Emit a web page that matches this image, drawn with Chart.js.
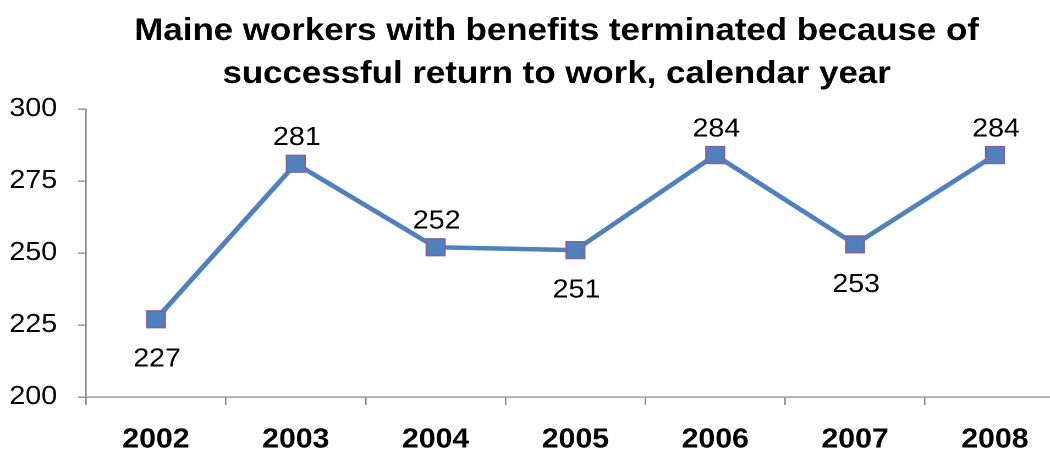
<!DOCTYPE html>
<html>
<head>
<meta charset="utf-8">
<script src="https://cdn.jsdelivr.net/npm/chart.js@4"></script>
<style>
  html, body { margin: 0; padding: 0; background: #fff; overflow: hidden; width: 1050px; height: 454px; }
  #wrap { width: 1012px; height: 454px; transform: scaleX(1.1); transform-origin: 0 0; }
</style>
</head>
<body>
<div id="wrap"><canvas id="c" width="1012" height="454"></canvas></div>
<script>
// ---- data ----
const titleLines = ["Maine workers with benefits terminated because of", "successful return to work, calendar year"];
const years = ["2002", "2003", "2004", "2005", "2006", "2007", "2008"];
const terminated = [227, 281, 252, 251, 284, 253, 284];
const yTicks = [200, 225, 250, 275, 300];

const FONT = "'Liberation Sans', Arial, sans-serif";
const AXIS_GREY = '#868686';

// title drawn centred on the canvas, space reserved via layout padding
const titlePlugin = {
  id: 'twoLineTitle',
  afterDraw(chart) {
    const ctx = chart.ctx;
    ctx.save();
    ctx.font = 'bold 31.7px ' + FONT;
    ctx.fillStyle = '#000';
    ctx.textAlign = 'center';
    ctx.textBaseline = 'alphabetic';
    const cx = chart.width / 2;
    titleLines.forEach((t, i) => ctx.fillText(t, cx, 40 + i * 43));
    ctx.restore();
  }
};

// value labels: below local minima, above otherwise
const valueLabels = {
  id: 'valueLabels',
  afterDatasetsDraw(chart) {
    const ctx = chart.ctx;
    const meta = chart.getDatasetMeta(0);
    const vals = chart.data.datasets[0].data;
    ctx.save();
    ctx.font = '26px ' + FONT;
    ctx.fillStyle = '#000';
    ctx.textAlign = 'center';
    ctx.textBaseline = 'alphabetic';
    meta.data.forEach((pt, i) => {
      const v = vals[i];
      const prev = i > 0 ? vals[i - 1] : Infinity;
      const next = i < vals.length - 1 ? vals[i + 1] : Infinity;
      const below = v <= prev && v <= next;
      const y = below ? pt.y + 47.5 : pt.y - 18.5;
      ctx.fillText(String(v), pt.x + 1, y);
    });
    ctx.restore();
  }
};

new Chart(document.getElementById('c'), {
  type: 'line',
  data: {
    labels: years,
    datasets: [{
      data: terminated,
      borderColor: '#4F81BD',
      borderWidth: 4.6,
      tension: 0,
      pointStyle: 'rect',
      pointRadius: 11.8,
      pointHoverRadius: 11.8,
      pointBackgroundColor: '#4F81BD',
      pointBorderColor: '#8064A2',
      pointBorderWidth: 1.6
    }]
  },
  options: {
    responsive: false,
    animation: false,
    devicePixelRatio: 2,
    layout: { padding: { top: 109, left: 8.5, right: 44, bottom: 0 } },
    plugins: {
      legend: { display: false },
      title: { display: false },
      tooltip: { enabled: false }
    },
    scales: {
      x: {
        type: 'category',
        offset: true,
        afterFit(scale) { scale.height = 57; },
        border: { display: true, color: AXIS_GREY, width: 1.3 },
        grid: { display: true, offset: true, drawOnChartArea: false, drawTicks: true, tickLength: 8, color: AXIS_GREY, lineWidth: 1.3 },
        ticks: {
          color: '#000',
          padding: 21,
          maxRotation: 0,
          autoSkip: false,
          font: { family: FONT, size: 27.5, weight: 'bold', lineHeight: 1 }
        }
      },
      y: {
        min: 200,
        max: 300,
        afterBuildTicks(scale) { scale.ticks = yTicks.map(v => ({ value: v })); },
        afterFit(scale) { scale.width = 69.7; },
        border: { display: true, color: AXIS_GREY, width: 1.3 },
        grid: { display: true, drawOnChartArea: false, drawTicks: true, tickLength: 7.3, color: AXIS_GREY, lineWidth: 1.3 },
        ticks: {
          color: '#000',
          padding: 19,
          font: { family: FONT, size: 26 }
        }
      }
    }
  },
  plugins: [titlePlugin, valueLabels]
});
</script>
</body>
</html>
